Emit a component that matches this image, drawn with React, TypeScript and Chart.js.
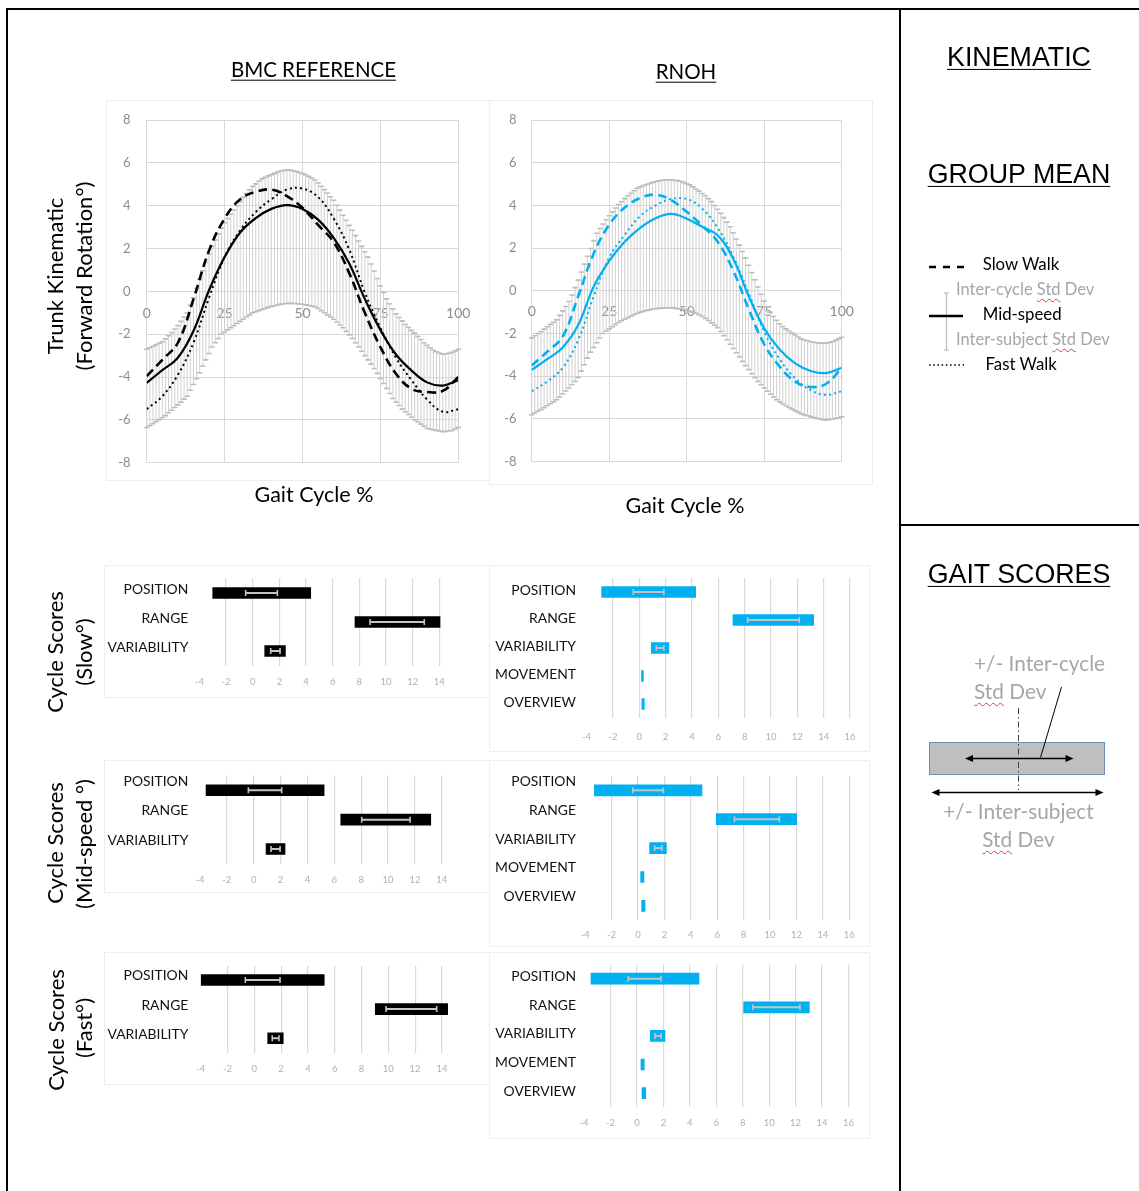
import React, { useEffect, useRef } from 'react';
import { Chart, registerables } from 'chart.js';

Chart.register(...registerables);

// ---------------- DATA ----------------
// Gait cycle % at which mean curves were read
const GAIT_PCT = [0, 5, 10, 15, 20, 25, 30, 35, 40, 45, 50, 55, 60, 65, 70, 75, 80, 85, 90, 95, 100];

// BMC reference group means (trunk forward rotation, deg)
const BMC_SLOW = [-3.96, -3.2, -2.4, -0.37, 1.9, 3.4, 4.3, 4.65, 4.75, 4.45, 3.9, 3.1, 2.3, 0.85, -1.0, -2.6, -3.85, -4.55, -4.7, -4.65, -4.0];
const BMC_MID = [-4.27, -3.68, -3.1, -1.85, 0.05, 1.6, 2.75, 3.42, 3.85, 4.03, 3.85, 3.35, 2.5, 1.3, -0.35, -1.8, -2.95, -3.7, -4.25, -4.4, -4.15];
const BMC_FAST = [-5.5, -4.9, -3.9, -2.4, -0.3, 1.6, 2.85, 3.7, 4.3, 4.75, 4.8, 4.4, 3.4, 1.95, -0.05, -1.7, -3.1, -4.15, -5.05, -5.62, -5.5];

// RNOH group means
const RNOH_SLOW = [-3.5, -2.85, -2.14, -0.25, 1.75, 3.1, 3.9, 4.35, 4.5, 4.25, 3.7, 3.05, 2.3, 0.95, -0.85, -2.5, -3.55, -4.25, -4.5, -4.35, -3.6];
const RNOH_MID = [-3.7, -3.2, -2.65, -1.6, 0.2, 1.4, 2.3, 2.95, 3.4, 3.6, 3.38, 3.0, 2.6, 1.5, -0.25, -1.75, -2.75, -3.4, -3.75, -3.85, -3.6];
const RNOH_FAST = [-4.7, -4.25, -3.6, -2.3, -0.25, 1.55, 2.62, 3.5, 4.0, 4.3, 4.3, 3.85, 2.95, 1.6, -0.12, -1.9, -3.2, -4.1, -4.65, -4.87, -4.7];

// Std-dev band limits, one value per 1% of gait cycle (0..100)
const BMC_BAND_UPPER = [
  -2.7, -2.63, -2.56, -2.49, -2.42, -2.35, -2.22, -2.07, -1.92, -1.76,
  -1.6, -1.4, -1.2, -1.0, -0.65, -0.3, 0.13, 0.56, 0.96, 1.35,
  1.73, 2.1, 2.4, 2.68, 2.95, 3.2, 3.4, 3.6, 3.8, 4.0,
  4.2, 4.4, 4.57, 4.74, 4.9, 5.02, 5.14, 5.25, 5.32, 5.39,
  5.45, 5.51, 5.57, 5.62, 5.65, 5.67, 5.66, 5.63, 5.6, 5.55,
  5.5, 5.45, 5.37, 5.29, 5.2, 5.06, 4.91, 4.75, 4.59, 4.42,
  4.25, 4.02, 3.79, 3.55, 3.32, 3.08, 2.85, 2.6, 2.35, 2.1,
  1.85, 1.6, 1.28, 0.95, 0.6, 0.25, -0.05, -0.35, -0.58, -0.82,
  -1.05, -1.22, -1.38, -1.55, -1.68, -1.82, -1.95, -2.1, -2.25, -2.4,
  -2.52, -2.64, -2.75, -2.82, -2.88, -2.94, -2.92, -2.89, -2.85, -2.78,
  -2.7,
];
const BMC_BAND_LOWER = [
  -6.36, -6.27, -6.18, -6.08, -5.99, -5.9, -5.8, -5.67, -5.55, -5.42,
  -5.3, -5.17, -5.03, -4.9, -4.62, -4.35, -4.08, -3.8, -3.5, -3.2,
  -2.9, -2.6, -2.4, -2.2, -2.0, -1.9, -1.8, -1.7, -1.6, -1.5,
  -1.4, -1.3, -1.2, -1.1, -1.0, -0.95, -0.9, -0.85, -0.8, -0.75,
  -0.7, -0.67, -0.64, -0.61, -0.58, -0.56, -0.56, -0.57, -0.58, -0.59,
  -0.6, -0.63, -0.66, -0.69, -0.72, -0.8, -0.9, -1.0, -1.1, -1.2,
  -1.3, -1.43, -1.57, -1.7, -1.87, -2.03, -2.2, -2.4, -2.6, -2.8,
  -3.0, -3.2, -3.4, -3.6, -3.83, -4.07, -4.3, -4.53, -4.77, -5.0,
  -5.17, -5.33, -5.5, -5.62, -5.75, -5.88, -6.0, -6.1, -6.2, -6.3,
  -6.4, -6.43, -6.46, -6.49, -6.52, -6.55, -6.54, -6.52, -6.5, -6.43,
  -6.35,
];
const RNOH_BAND_UPPER = [
  -2.2, -2.1, -2.0, -1.9, -1.79, -1.68, -1.57, -1.47, -1.36, -1.15,
  -0.94, -0.73, -0.5, -0.2, 0.15, 0.5, 0.88, 1.25, 1.62, 1.98,
  2.35, 2.7, 2.92, 3.13, 3.33, 3.52, 3.7, 3.88, 4.04, 4.18,
  4.32, 4.45, 4.57, 4.69, 4.8, 4.87, 4.93, 4.98, 5.03, 5.08,
  5.12, 5.15, 5.18, 5.2, 5.2, 5.19, 5.18, 5.16, 5.13, 5.08,
  5.02, 4.96, 4.87, 4.77, 4.67, 4.56, 4.45, 4.32, 4.18, 4.0,
  3.82, 3.63, 3.43, 3.22, 3.0, 2.72, 2.43, 2.14, 1.84, 1.53,
  1.2, 0.86, 0.52, 0.18, -0.16, -0.48, -0.75, -1.0, -1.2, -1.38,
  -1.54, -1.67, -1.78, -1.88, -1.98, -2.07, -2.16, -2.25, -2.3, -2.34,
  -2.38, -2.41, -2.43, -2.44, -2.45, -2.44, -2.42, -2.38, -2.32, -2.25,
  -2.17,
];
const RNOH_BAND_LOWER = [
  -5.8, -5.72, -5.64, -5.56, -5.47, -5.38, -5.29, -5.2, -5.1, -4.97,
  -4.83, -4.69, -4.55, -4.4, -4.24, -4.05, -3.76, -3.46, -3.15, -2.87,
  -2.65, -2.43, -2.21, -2.0, -1.88, -1.78, -1.68, -1.58, -1.48, -1.4,
  -1.33, -1.26, -1.19, -1.12, -1.06, -1.01, -0.96, -0.92, -0.89, -0.86,
  -0.84, -0.82, -0.81, -0.8, -0.8, -0.8, -0.81, -0.83, -0.85, -0.88,
  -0.92, -0.96, -1.0, -1.05, -1.12, -1.2, -1.29, -1.39, -1.5, -1.61,
  -1.72, -1.9, -2.1, -2.3, -2.5, -2.7, -2.9, -3.1, -3.3, -3.5,
  -3.69, -3.88, -4.07, -4.24, -4.4, -4.55, -4.7, -4.84, -4.97, -5.1,
  -5.2, -5.29, -5.38, -5.46, -5.54, -5.62, -5.69, -5.76, -5.81, -5.85,
  -5.89, -5.93, -5.97, -6.0, -6.03, -6.04, -6.03, -6.01, -5.98, -5.94,
  -5.9,
];

// Gait scores: bars = +/- inter-subject SD, whiskers = +/- inter-cycle SD
const CATS_BMC = ['POSITION', 'RANGE', 'VARIABILITY'];
const CATS_RNOH = ['POSITION', 'RANGE', 'VARIABILITY', 'MOVEMENT', 'OVERVIEW'];

const BMC_SLOW_SUBJ = [[-3.0, 4.35], [7.67, 14.05], [0.9, 2.45]];
const BMC_SLOW_CYC = [[-0.53, 1.85], [8.8, 12.87], [1.35, 2.05]];
const BMC_MID_SUBJ = [[-3.55, 5.24], [6.48, 13.18], [0.92, 2.33]];
const BMC_MID_CYC = [[-0.4, 2.08], [8.04, 11.64], [1.29, 1.96]];
const BMC_FAST_SUBJ = [[-3.98, 5.22], [9.03, 14.43], [1.0, 2.16]];
const BMC_FAST_CYC = [[-0.67, 1.92], [9.83, 13.61], [1.34, 1.84]];

const RNOH_SLOW_SUBJ = [[-2.86, 4.28], [7.11, 13.24], [0.91, 2.25], [0.17, 0.31], [0.2, 0.38]];
const RNOH_SLOW_CYC = [[-0.46, 1.87], [8.23, 12.15], [1.29, 1.87], null, null];
const RNOH_MID_SUBJ = [[-3.31, 4.85], [5.93, 12.02], [0.88, 2.15], [0.2, 0.45], [0.28, 0.53]];
const RNOH_MID_CYC = [[-0.4, 1.92], [7.3, 10.71], [1.26, 1.82], null, null];
const RNOH_FAST_SUBJ = [[-3.48, 4.69], [8.07, 13.04], [1.01, 2.12], [0.3, 0.55], [0.38, 0.66]];
const RNOH_FAST_CYC = [[-0.66, 1.82], [8.75, 12.33], [1.36, 1.82], null, null];

// ---------------- STYLE ----------------
const BLUE = '#00B0F0';
const GRID = '#d9d9d9';
const TICK_GRAY = '#8c8c8c';
const LIGHT_TEXT = '#a6a6a6';
const CLEAR = 'rgba(0,0,0,0)';
const FONT = 'Lato, "Open Sans", sans-serif';

// ---------------- PLUGINS ----------------
function bandPlugin(upper: number[], lower: number[]) {
  return {
    id: 'sdBand',
    beforeDatasetsDraw(chart: any) {
      const { ctx, scales } = chart;
      const xs = scales.x;
      const ys = scales.y;
      ctx.save();
      for (let i = 0; i < upper.length; i++) {
        const px = xs.getPixelForValue(i);
        const yt = ys.getPixelForValue(upper[i]);
        const yb = ys.getPixelForValue(lower[i]);
        ctx.strokeStyle = '#d0d0d0';
        ctx.lineWidth = 1;
        ctx.beginPath();
        ctx.moveTo(px, yt);
        ctx.lineTo(px, yb);
        ctx.stroke();
        ctx.strokeStyle = '#bcbcbc';
        ctx.lineWidth = 1.6;
        ctx.beginPath();
        ctx.moveTo(px - 2.6, yt);
        ctx.lineTo(px + 2.6, yt);
        ctx.moveTo(px - 2.6, yb);
        ctx.lineTo(px + 2.6, yb);
        ctx.stroke();
      }
      ctx.restore();
    },
  };
}

function cyclePlugin(cyc: (number[] | null)[]) {
  return {
    id: 'cycleSD',
    afterDatasetsDraw(chart: any) {
      const { ctx, scales } = chart;
      ctx.save();
      ctx.strokeStyle = '#c4c4c4';
      for (let i = 0; i < cyc.length; i++) {
        const r = cyc[i];
        if (!r) continue;
        const y = scales.y.getPixelForValue(i);
        const x1 = scales.x.getPixelForValue(r[0]);
        const x2 = scales.x.getPixelForValue(r[1]);
        ctx.lineWidth = 2;
        ctx.beginPath();
        ctx.moveTo(x1, y);
        ctx.lineTo(x2, y);
        ctx.stroke();
        ctx.lineWidth = 1.6;
        ctx.beginPath();
        ctx.moveTo(x1, y - 3);
        ctx.lineTo(x1, y + 3);
        ctx.moveTo(x2, y - 3);
        ctx.lineTo(x2, y + 3);
        ctx.stroke();
      }
      ctx.restore();
    },
  };
}

// ---------------- COMPONENTS ----------------
type LineProps = {
  left: number; top: number; width: number; height: number;
  plotL: number; plotR: number; plotT: number; plotB: number;
  xLabelY: number; yLabelRight: number;
  color: string;
  slow: number[]; mid: number[]; fast: number[];
  upper: number[]; lower: number[];
};

function KinematicChart(p: LineProps) {
  const ref = useRef<HTMLCanvasElement>(null);
  useEffect(() => {
    const zeroPx = p.plotT + (p.plotB - p.plotT) / 2;
    const xFont = 14;
    const mk = (vals: number[]) => GAIT_PCT.map((x, i) => ({ x, y: vals[i] }));
    const chart = new Chart(ref.current as HTMLCanvasElement, {
      type: 'line',
      data: {
        datasets: [
          { label: 'Slow Walk', data: mk(p.slow), borderColor: p.color, borderWidth: 2.6, borderDash: [9, 5], pointRadius: 0, tension: 0.4, fill: false },
          { label: 'Mid-speed', data: mk(p.mid), borderColor: p.color, borderWidth: 2.2, pointRadius: 0, tension: 0.4, fill: false },
          { label: 'Fast Walk', data: mk(p.fast), borderColor: p.color, borderWidth: 2, borderDash: [2, 3.2], pointRadius: 0, tension: 0.4, fill: false },
        ],
      },
      options: {
        animation: false,
        responsive: false,
        maintainAspectRatio: false,
        layout: { autoPadding: false, padding: { top: p.plotT - p.top, right: p.left + p.width - p.plotR, bottom: p.top + p.height - p.plotB, left: 0 } },
        plugins: { legend: { display: false }, tooltip: { enabled: false } },
        scales: {
          x: {
            type: 'linear', min: 0, max: 100,
            position: { y: 0 } as any,
            ticks: { stepSize: 25, color: TICK_GRAY, font: { family: FONT, size: xFont }, padding: 0, maxRotation: 0 },
            grid: { color: GRID, drawTicks: true, tickLength: p.xLabelY - zeroPx - xFont * 0.6, tickColor: CLEAR, lineWidth: 1 },
            border: { display: false },
            afterFit: (s: any) => { s.height = 0; },
          },
          y: {
            type: 'linear', min: -8, max: 8,
            ticks: { stepSize: 2, color: TICK_GRAY, font: { family: FONT, size: 13 }, padding: 0 },
            grid: { color: GRID, drawTicks: true, tickLength: p.plotL - p.yLabelRight, tickColor: CLEAR, lineWidth: 1 },
            border: { display: false },
            afterFit: (s: any) => { s.width = p.plotL - p.left; },
          },
        },
      },
      plugins: [bandPlugin(p.upper, p.lower)],
    } as any);
    return () => chart.destroy();
  }, []);
  return <canvas ref={ref} width={p.width} height={p.height} style={{ position: 'absolute', left: p.left, top: p.top }} />;
}

type BarProps = {
  left: number; top: number; width: number; height: number;
  plotL: number; plotR: number; catT: number; catB: number;
  labelRight: number; tickY: number; labelOffset: number; max: number;
  color: string; cats: string[]; subj: number[][]; cyc: (number[] | null)[];
};

function ScoreChart(p: BarProps) {
  const ref = useRef<HTMLCanvasElement>(null);
  useEffect(() => {
    const tickFont = 9.5;
    const chart = new Chart(ref.current as HTMLCanvasElement, {
      type: 'bar',
      data: {
        labels: p.cats,
        datasets: [{ data: p.subj, backgroundColor: p.color, borderColor: p.color, borderWidth: 0, borderSkipped: false, barThickness: 11 }],
      },
      options: {
        indexAxis: 'y',
        animation: false,
        responsive: false,
        maintainAspectRatio: false,
        layout: { autoPadding: false, padding: { top: p.catT - p.top, right: p.left + p.width - p.plotR, left: 0, bottom: 0 } },
        plugins: { legend: { display: false }, tooltip: { enabled: false } },
        scales: {
          x: {
            type: 'linear', min: -4, max: p.max,
            ticks: { stepSize: 2, includeBounds: false, color: '#b0b0b0', font: { family: FONT, size: tickFont }, padding: 0, maxRotation: 0 },
            afterBuildTicks: (s: any) => { s.ticks = s.ticks.filter((t: any) => t.value <= p.max && t.value % 2 === 0); },
            grid: {
              color: (c: any) => (c.tick && c.tick.value === -4 ? CLEAR : GRID),
              drawTicks: true, tickLength: p.tickY - p.catB - tickFont * 0.6, tickColor: CLEAR, lineWidth: 1.2,
            },
            border: { display: false },
            afterFit: (s: any) => { s.height = p.top + p.height - p.catB; },
          },
          y: {
            type: 'category',
            ticks: { color: '#111', font: { family: FONT, size: 13.9 }, padding: 0, labelOffset: p.labelOffset },
            grid: { display: true, drawOnChartArea: false, drawTicks: true, tickLength: p.plotL - p.labelRight, tickColor: CLEAR, color: CLEAR },
            border: { display: false },
            afterFit: (s: any) => { s.width = p.plotL - p.left; },
          },
        },
      },
      plugins: [cyclePlugin(p.cyc)],
    } as any);
    return () => chart.destroy();
  }, []);
  return <canvas ref={ref} width={p.width} height={p.height} style={{ position: 'absolute', left: p.left, top: p.top }} />;
}

function Txt({ x, y, children, size = 20, color = '#000', family = FONT, align = 'center', underline = false }: any) {
  const tx = align === 'center' ? '-50%' : '0';
  return (
    <div
      style={{
        position: 'absolute', left: x, top: y, whiteSpace: 'nowrap',
        transform: `translate(${tx}, -50%)`,
        fontFamily: family, fontSize: size, color, lineHeight: 1.2,
        textDecoration: underline ? 'underline' : 'none', textDecorationThickness: '1px', textUnderlineOffset: '3px',
      }}
    >
      {children}
    </div>
  );
}

function RotTxt({ x, y, children, size = 22 }: any) {
  return (
    <div style={{ position: 'absolute', left: x, top: y, width: 0, height: 0 }}>
      <div style={{ position: 'absolute', left: 0, top: 0, transform: 'translate(-50%, -50%) rotate(-90deg)', whiteSpace: 'nowrap', fontFamily: FONT, fontSize: size, lineHeight: 1.2, color: '#000' }}>
        {children}
      </div>
    </div>
  );
}

const Std = () => (
  <span style={{ textDecoration: 'underline wavy #e04040', textDecorationThickness: '1px', textUnderlineOffset: '3px' }}>Std</span>
);

export default function App() {
  const ARIAL = '"Liberation Sans", Arial, sans-serif';
  return (
    <div style={{ position: 'absolute', left: 0, top: 0, width: 1139, height: 1191, background: '#fff', overflow: 'hidden' }}>
      {/* faint chart frames */}
      <svg width={1139} height={1191} style={{ position: 'absolute', left: 0, top: 0 }}>
        <g fill="none" stroke="#eeeeee" strokeWidth={1}>
          <rect x={106.5} y={100.5} width={383} height={380} />
          <rect x={489.5} y={100.5} width={383} height={384} />
          <rect x={104.5} y={565.5} width={385} height={132} />
          <rect x={489.5} y={565.5} width={380} height={186} />
          <rect x={104.5} y={760.5} width={385} height={132} />
          <rect x={489.5} y={760.5} width={380} height={186} />
          <rect x={104.5} y={952.5} width={385} height={132} />
          <rect x={489.5} y={952.5} width={380} height={186} />
        </g>
      </svg>

      <KinematicChart left={107} top={100} width={383} height={380} plotL={146.7} plotR={458.3} plotT={120} plotB={462.7}
        xLabelY={313.3} yLabelRight={130.5} color="#000" slow={BMC_SLOW} mid={BMC_MID} fast={BMC_FAST}
        upper={BMC_BAND_UPPER} lower={BMC_BAND_LOWER} />
      <KinematicChart left={490} top={100} width={383} height={385} plotL={531.7} plotR={841.7} plotT={120} plotB={461.7}
        xLabelY={311.7} yLabelRight={516.5} color={BLUE} slow={RNOH_SLOW} mid={RNOH_MID} fast={RNOH_FAST}
        upper={RNOH_BAND_UPPER} lower={RNOH_BAND_LOWER} />

      <ScoreChart left={100} top={565} width={390} height={130} plotL={199.4} plotR={452.7} catT={578.5} catB={665.5}
        labelRight={188.3} tickY={682} labelOffset={-3} max={15} color="#000" cats={CATS_BMC} subj={BMC_SLOW_SUBJ} cyc={BMC_SLOW_CYC} />
      <ScoreChart left={100} top={760} width={390} height={132} plotL={200} plotR={455.2} catT={775.6} catB={863.7}
        labelRight={188.3} tickY={880} labelOffset={-9} max={15} color="#000" cats={CATS_BMC} subj={BMC_MID_SUBJ} cyc={BMC_MID_CYC} />
      <ScoreChart left={100} top={952} width={390} height={130} plotL={200.7} plotR={455.3} catT={965.4} catB={1052.8}
        labelRight={188.3} tickY={1069} labelOffset={-4} max={15} color="#000" cats={CATS_BMC} subj={BMC_FAST_SUBJ} cyc={BMC_FAST_CYC} />

      <ScoreChart left={490} top={565} width={380} height={185} plotL={586.6} plotR={850} catT={578} catB={718}
        labelRight={576} tickY={736.7} labelOffset={-1.5} max={16} color={BLUE} cats={CATS_RNOH} subj={RNOH_SLOW_SUBJ} cyc={RNOH_SLOW_CYC} />
      <ScoreChart left={490} top={762} width={380} height={185} plotL={585.2} plotR={849.2} catT={775.85} catB={920.35}
        labelRight={576} tickY={935} labelOffset={-9} max={16} color={BLUE} cats={CATS_RNOH} subj={RNOH_MID_SUBJ} cyc={RNOH_MID_CYC} />
      <ScoreChart left={490} top={952} width={380} height={185} plotL={584.1} plotR={848.5} catT={964.4} catB={1107.4}
        labelRight={576} tickY={1123.3} labelOffset={-2} max={16} color={BLUE} cats={CATS_RNOH} subj={RNOH_FAST_SUBJ} cyc={RNOH_FAST_CYC} />

      {/* frame, legend icons and gait score diagram */}
      <svg width={1139} height={1191} style={{ position: 'absolute', left: 0, top: 0, pointerEvents: 'none' }}>
        <g stroke="#000" strokeWidth={2}>
          <line x1={6} y1={9} x2={1139} y2={9} />
          <line x1={7} y1={8} x2={7} y2={1191} />
          <line x1={900} y1={8} x2={900} y2={1191} />
          <line x1={900} y1={525} x2={1139} y2={525} />
        </g>
        {/* legend icons */}
        <line x1={929} y1={267} x2={964} y2={267} stroke="#000" strokeWidth={2.6} strokeDasharray="7 7" />
        <g stroke="#bdbdbd" strokeWidth={1.2}>
          <line x1={946.5} y1={293} x2={946.5} y2={350} />
          <line x1={944} y1={293} x2={949} y2={293} />
          <line x1={944} y1={350} x2={949} y2={350} />
        </g>
        <line x1={929} y1={316} x2={963} y2={316} stroke="#000" strokeWidth={2.6} />
        <line x1={929} y1={365} x2={964} y2={365} stroke="#000" strokeWidth={1.6} strokeDasharray="1.6 2.6" />
        {/* diagram */}
        <rect x={929.5} y={742.5} width={175} height={32} fill="#bfbfbf" stroke="#6f8db3" strokeWidth={1} />
        <line x1={1018.5} y1={708} x2={1018.5} y2={790} stroke="#404040" strokeWidth={1} strokeDasharray="6 3 1.5 3" />
        <line x1={1061.5} y1={687} x2={1040.5} y2={757.5} stroke="#000" strokeWidth={1} />
        <line x1={970} y1={758.5} x2={1068} y2={758.5} stroke="#000" strokeWidth={1.3} />
        <polygon points="965,758.5 973,755 973,762" fill="#000" />
        <polygon points="1073.5,758.5 1065.5,755 1065.5,762" fill="#000" />
        <line x1={936} y1={792.5} x2={1099} y2={792.5} stroke="#000" strokeWidth={1.3} />
        <polygon points="931.5,792.5 939.5,789 939.5,796" fill="#000" />
        <polygon points="1103.5,792.5 1095.5,789 1095.5,796" fill="#000" />
      </svg>

      {/* left column titles */}
      <Txt x={313.5} y={69} size={20.5} underline>BMC REFERENCE</Txt>
      <Txt x={686} y={71} size={20.5} underline>RNOH</Txt>
      <RotTxt x={55} y={276}>Trunk Kinematic</RotTxt>
      <RotTxt x={84} y={276}>(Forward Rotation°)</RotTxt>
      <Txt x={314} y={495} size={21.5}>Gait Cycle %</Txt>
      <Txt x={685} y={506} size={21.5}>Gait Cycle %</Txt>

      <RotTxt x={55} y={652}>Cycle Scores</RotTxt>
      <RotTxt x={84} y={652}>(Slow°)</RotTxt>
      <RotTxt x={55} y={843}>Cycle Scores</RotTxt>
      <RotTxt x={84} y={844}>(Mid-speed °)</RotTxt>
      <RotTxt x={56} y={1030}>Cycle Scores</RotTxt>
      <RotTxt x={84} y={1028}>(Fast°)</RotTxt>

      {/* right column */}
      <Txt x={1019} y={57} size={26.8} family={ARIAL} underline>KINEMATIC</Txt>
      <Txt x={1019} y={174} size={26.8} family={ARIAL} underline>GROUP MEAN</Txt>
      <Txt x={1019} y={574} size={26.8} family={ARIAL} underline>GAIT SCORES</Txt>

      <Txt x={982.7} y={264} size={16.8} align="left">Slow Walk</Txt>
      <Txt x={956} y={290} size={16.5} align="left" color={LIGHT_TEXT}>Inter-cycle <Std /> Dev</Txt>
      <Txt x={982.7} y={313.5} size={16.8} align="left">Mid-speed</Txt>
      <Txt x={956} y={339.5} size={16.5} align="left" color={LIGHT_TEXT}>Inter-subject <Std /> Dev</Txt>
      <Txt x={985.5} y={364} size={16.8} align="left">Fast Walk</Txt>

      <Txt x={974} y={663} size={20.8} align="left" color={LIGHT_TEXT}>+/- Inter-cycle</Txt>
      <Txt x={974} y={691} size={20.8} align="left" color={LIGHT_TEXT}><Std /> Dev</Txt>
      <Txt x={1018.5} y={811} size={20.8} color={LIGHT_TEXT}>+/- Inter-subject</Txt>
      <Txt x={1018.5} y={839} size={20.8} color={LIGHT_TEXT}><Std /> Dev</Txt>
    </div>
  );
}
